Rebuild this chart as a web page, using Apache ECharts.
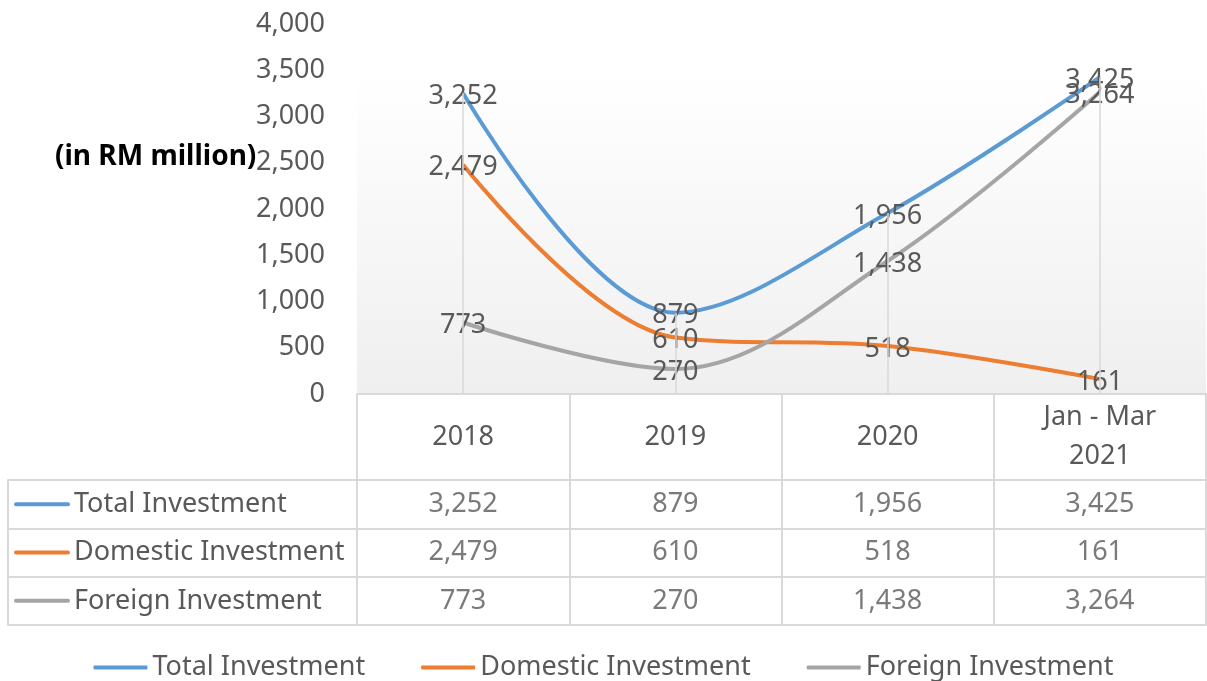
<!DOCTYPE html>
<html>
<head>
<meta charset="utf-8">
<script src="https://cdn.jsdelivr.net/npm/echarts@6/dist/echarts.min.js"></script>
<style>
  html, body { margin: 0; padding: 0; background: #fff; }
  #chart { width: 1207px; height: 681px; }
</style>
</head>
<body>
<div id="chart"></div>
<script>
// 数据
var categories = ['2018', '2019', '2020', 'Jan - Mar\n2021'];
var seriesNames = ['Total Investment', 'Domestic Investment', 'Foreign Investment'];
var totalInv = [3252, 879, 1956, 3425];
var domesticInv = [2479, 610, 518, 161];
var foreignInv = [773, 270, 1438, 3264];
var yTicks = [0, 500, 1000, 1500, 2000, 2500, 3000, 3500, 4000];

var colors = ['#5b9bd5', '#ed7d31', '#a5a5a5'];
var textColor = '#595959';
var lineColor = '#d9d9d9';
var font = '"Noto Sans", sans-serif';
var fs = 27;

var allSeries = [totalInv, domesticInv, foreignInv];

var fmt = function (v) {
    return Number(v).toLocaleString('en-US');
};

// 表格单元格 (列, 行, 值)
var tableCells = [];
allSeries.forEach(function (arr, r) {
    arr.forEach(function (v, c) {
        tableCells.push([c, r, v]);
    });
});

// 垂直线: 每个类别的最大值到 0
var dropLines = categories.map(function (c, i) {
    var top = Math.max(totalInv[i], domesticInv[i], foreignInv[i]);
    return [{ coord: [i, top] }, { coord: [i, 0] }];
});

var chart = echarts.init(document.getElementById('chart'));

var lineSeries = allSeries.map(function (arr, i) {
    return {
        name: seriesNames[i],
        type: 'line',
        xAxisIndex: 0,
        yAxisIndex: 0,
        data: arr,
        smooth: 0.35,
        symbol: 'circle',
        symbolSize: 0,
        showSymbol: true,
        z: 3,
        lineStyle: { color: colors[i], width: 4 },
        itemStyle: { color: colors[i] },
        label: {
            show: true,
            position: 'inside',
            offset: [0, 3],
            formatter: function (p) { return fmt(p.value); },
            color: textColor,
            fontSize: fs,
            fontFamily: font
        },
        emphasis: { disabled: true }
    };
});

var option = {
    animation: false,
    textStyle: { fontFamily: font },
    title: {
        text: '(in RM million)',
        left: 50,
        top: 138,
        textStyle: { fontSize: 28, fontWeight: 'bold', color: '#000', fontFamily: font }
    },
    legend: {
        data: seriesNames,
        left: 'center',
        top: 649,
        icon: 'roundRect',
        itemWidth: 54,
        itemHeight: 4,
        itemGap: 56,
        textStyle: { color: textColor, fontSize: fs, fontFamily: font }
    },
    grid: [
        {
            left: 357, right: 1, top: 24, bottom: 287,
            show: true,
            borderWidth: 0,
            backgroundColor: new echarts.graphic.LinearGradient(0, 0, 0, 1, [
                { offset: 0, color: '#ffffff' },
                { offset: 0.13, color: '#ffffff' },
                { offset: 1, color: '#efefef' }
            ])
        },
        { left: 357, right: 1, top: 480, bottom: 56 }
    ],
    xAxis: [
        {
            gridIndex: 0,
            type: 'category',
            data: categories,
            boundaryGap: true,
            axisLine: { show: true, lineStyle: { color: lineColor, width: 2 } },
            axisTick: { show: true, interval: 0, length: 86, lineStyle: { color: lineColor, width: 2 } },
            axisLabel: {
                interval: 0,
                margin: 43,
                verticalAlign: 'middle',
                lineHeight: 39,
                color: textColor,
                fontSize: fs,
                fontFamily: font
            },
            splitLine: { show: false }
        },
        {
            gridIndex: 1,
            type: 'category',
            data: categories,
            boundaryGap: true,
            axisLine: { show: true, lineStyle: { color: lineColor, width: 2 } },
            axisTick: { show: false },
            axisLabel: { show: false },
            splitLine: { show: true, interval: 0, lineStyle: { color: lineColor, width: 2 } }
        }
    ],
    yAxis: [
        {
            gridIndex: 0,
            type: 'value',
            min: 0,
            max: 4000,
            interval: 500,
            axisLine: { show: false },
            axisTick: { show: false },
            splitLine: { show: false },
            axisLabel: {
                margin: 32,
                color: textColor,
                fontSize: fs,
                fontFamily: font,
                formatter: function (v) { return yTicks.indexOf(v) > -1 ? fmt(v) : ''; }
            }
        },
        {
            gridIndex: 1,
            type: 'category',
            data: seriesNames,
            inverse: true,
            boundaryGap: true,
            axisLine: { show: true, lineStyle: { color: lineColor, width: 2 } },
            axisTick: { show: true, interval: 0, length: 349, lineStyle: { color: lineColor, width: 2 } },
            splitLine: { show: true, interval: 0, lineStyle: { color: lineColor, width: 2 } },
            axisLabel: {
                interval: 0,
                margin: 343,
                align: 'left',
                formatter: function (v, i) { return '{k' + i + '|}{t|' + v + '}'; },
                rich: {
                    k0: { width: 56, height: 4, backgroundColor: colors[0], borderRadius: 2 },
                    k1: { width: 56, height: 4, backgroundColor: colors[1], borderRadius: 2 },
                    k2: { width: 56, height: 4, backgroundColor: colors[2], borderRadius: 2 },
                    t: { color: textColor, fontSize: fs, fontFamily: font, padding: [0, 0, 0, 4] }
                }
            }
        },
        {
            // 表格左边框
            gridIndex: 1,
            type: 'category',
            data: seriesNames,
            position: 'left',
            offset: 349,
            axisLine: { show: true, lineStyle: { color: lineColor, width: 2 } },
            axisTick: { show: false },
            axisLabel: { show: false },
            splitLine: { show: false }
        }
    ],
    series: lineSeries.concat([
        {
            name: 'drop',
            type: 'line',
            xAxisIndex: 0,
            yAxisIndex: 0,
            data: [],
            z: 1,
            markLine: {
                silent: true,
                symbol: ['none', 'none'],
                label: { show: false },
                lineStyle: { color: lineColor, width: 1.5, type: 'solid' },
                data: dropLines
            }
        },
        {
            name: 'table',
            type: 'scatter',
            xAxisIndex: 1,
            yAxisIndex: 1,
            data: tableCells,
            symbolSize: 1,
            itemStyle: { color: 'rgba(0,0,0,0)' },
            label: {
                show: true,
                position: 'inside',
                formatter: function (p) { return fmt(p.value[2]); },
                color: textColor,
                fontSize: fs,
                fontFamily: font
            },
            emphasis: { disabled: true }
        }
    ])
};

chart.setOption(option);
</script>
</body>
</html>
